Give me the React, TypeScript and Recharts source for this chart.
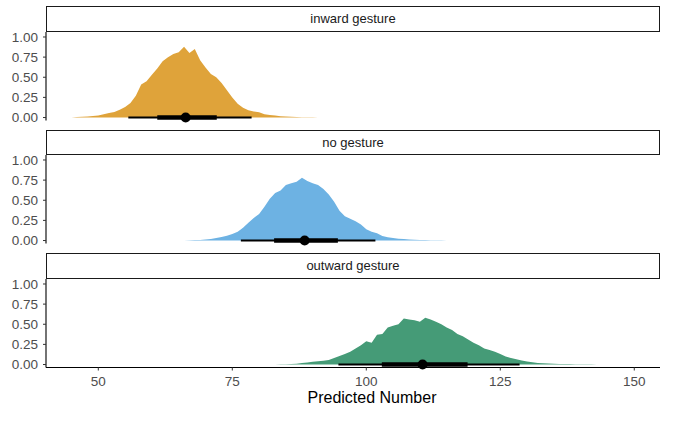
import React from 'react';
import { ComposedChart, Area, XAxis, YAxis, ReferenceLine, ReferenceDot } from 'recharts';

// density heights, one value per unit of x
const inwardStart = 45;
const inwardDensity = [
    0, 0.005, 0.01, 0.012, 0.02, 0.025, 0.04, 0.055, 0.07, 0.095,
    0.13, 0.18, 0.27, 0.41, 0.45, 0.53, 0.61, 0.7, 0.75, 0.79,
    0.81, 0.88, 0.8, 0.85, 0.71, 0.62, 0.54, 0.5, 0.43, 0.34,
    0.25, 0.17, 0.12, 0.09, 0.075, 0.065, 0.04, 0.03, 0.025, 0.015,
    0.012, 0.01, 0.006, 0.004, 0.003, 0.002, 0,
];

const noneStart = 66;
const noneDensity = [
    0, 0.003, 0.005, 0.008, 0.012, 0.02, 0.03, 0.045, 0.06, 0.08,
    0.11, 0.16, 0.22, 0.28, 0.33, 0.42, 0.52, 0.59, 0.62, 0.69,
    0.71, 0.73, 0.78, 0.74, 0.71, 0.69, 0.64, 0.57, 0.48, 0.37,
    0.3, 0.27, 0.24, 0.2, 0.14, 0.11, 0.09, 0.055, 0.04, 0.03,
    0.022, 0.018, 0.014, 0.01, 0.008, 0.006, 0.004, 0.003, 0.002, 0.001,
    0,
];

const outwardStart = 83;
const outwardDensity = [
    0, 0.002, 0.004, 0.007, 0.01, 0.018, 0.025, 0.033, 0.04, 0.047,
    0.055, 0.08, 0.105, 0.13, 0.16, 0.2, 0.24, 0.29, 0.27, 0.37,
    0.38, 0.46, 0.48, 0.5, 0.57, 0.56, 0.55, 0.53, 0.58, 0.56,
    0.53, 0.5, 0.46, 0.43, 0.38, 0.35, 0.31, 0.27, 0.24, 0.2,
    0.18, 0.16, 0.13, 0.1, 0.08, 0.065, 0.05, 0.037, 0.028, 0.02,
    0.015, 0.012, 0.01, 0.008, 0.007, 0.005, 0.004, 0.003, 0.002, 0.002,
    0.001, 0.001, 0.0005, 0,
];

// median, 66% and 95% intervals
const medians = [66.3, 88.5, 110.5];
const inner = [[61.0, 72.1], [82.8, 94.7], [102.9, 118.9]];
const outer = [[55.6, 78.6], [76.6, 101.7], [94.8, 128.6]];

const panelLabels = ['inward gesture', 'no gesture', 'outward gesture'];
const xTicks = [50, 75, 100, 125, 150];
const yTicks = [0, 0.25, 0.5, 0.75, 1];

const fills = ['#DFA33A', '#6DB2E3', '#459B77'];
const font = '"Liberation Sans", Arial, Helvetica, sans-serif';
const xDomain: [number, number] = [40.24, 154.8];
const yDomain: [number, number] = [-0.037, 1.062];

const toRows = (start: number, values: number[]) =>
    values.map((y, i) => ({ x: start + i, y }));

const panels = [
    toRows(inwardStart, inwardDensity),
    toRows(noneStart, noneDensity),
    toRows(outwardStart, outwardDensity),
];

const stripTops = [6, 129.5, 253];
const plotH = 88.5;
const stripH = 25.5;
const pad = 8;

const tickStyle = { fontSize: 13.5, fill: '#4D4D4D', fontFamily: font };

const Panel = ({ i }: { i: number }) => {
    const last = i === panels.length - 1;
    return (
        <div style={{ position: 'absolute', left: 0, top: stripTops[i] + stripH - pad }}>
            <ComposedChart
                width={680}
                height={last ? plotH + pad + 40 : plotH + 2 * pad}
                data={panels[i]}
                margin={{ top: pad, right: 20, bottom: last ? 0 : pad, left: 0 }}
            >
                <XAxis
                    type="number"
                    dataKey="x"
                    domain={xDomain}
                    allowDataOverflow
                    ticks={xTicks}
                    interval={0}
                    hide={!last}
                    height={40}
                    tick={tickStyle}
                    tickSize={3}
                    tickMargin={6}
                    axisLine={{ stroke: '#000', strokeWidth: 1.1 }}
                    tickLine={{ stroke: '#333' }}
                />
                <YAxis
                    type="number"
                    domain={yDomain}
                    allowDataOverflow
                    ticks={yTicks}
                    interval={0}
                    width={46}
                    tickFormatter={(v: number) => v.toFixed(2)}
                    tick={tickStyle}
                    tickSize={3}
                    tickMargin={5}
                    axisLine={{ stroke: '#000', strokeWidth: 1.1 }}
                    tickLine={{ stroke: '#333' }}
                />
                <Area
                    type="linear"
                    dataKey="y"
                    baseValue={0}
                    stroke="none"
                    fill={fills[i]}
                    fillOpacity={1}
                    isAnimationActive={false}
                />
                <ReferenceLine
                    segment={[{ x: outer[i][0], y: 0 }, { x: outer[i][1], y: 0 }]}
                    stroke="#000"
                    strokeWidth={2}
                    ifOverflow="visible"
                />
                <ReferenceLine
                    segment={[{ x: inner[i][0], y: 0 }, { x: inner[i][1], y: 0 }]}
                    stroke="#000"
                    strokeWidth={4.5}
                    ifOverflow="visible"
                />
                <ReferenceDot x={medians[i]} y={0} r={5} fill="#000" stroke="none" ifOverflow="visible" />
            </ComposedChart>
        </div>
    );
};

const App = () => (
    <div style={{ position: 'relative', width: 680, height: 421, background: '#fff', fontFamily: font }}>
        <style>{'body{margin:0}'}</style>
        {panels.map((_, i) => <Panel key={i} i={i} />)}
        {panelLabels.map((label, i) => (
            <div
                key={label}
                style={{
                    position: 'absolute',
                    left: 46,
                    top: stripTops[i],
                    width: 614,
                    height: stripH,
                    boxSizing: 'border-box',
                    border: '1.4px solid #1A1A1A',
                    background: '#fff',
                    fontSize: 13,
                    color: '#1A1A1A',
                    display: 'flex',
                    alignItems: 'center',
                    justifyContent: 'center',
                }}
            >
                {label}
            </div>
        ))}
        <div
            style={{
                position: 'absolute',
                left: 0,
                width: 744,
                top: 389,
                textAlign: 'center',
                fontSize: 16,
                color: '#000',
            }}
        >
            Predicted Number
        </div>
    </div>
);

export default App;
